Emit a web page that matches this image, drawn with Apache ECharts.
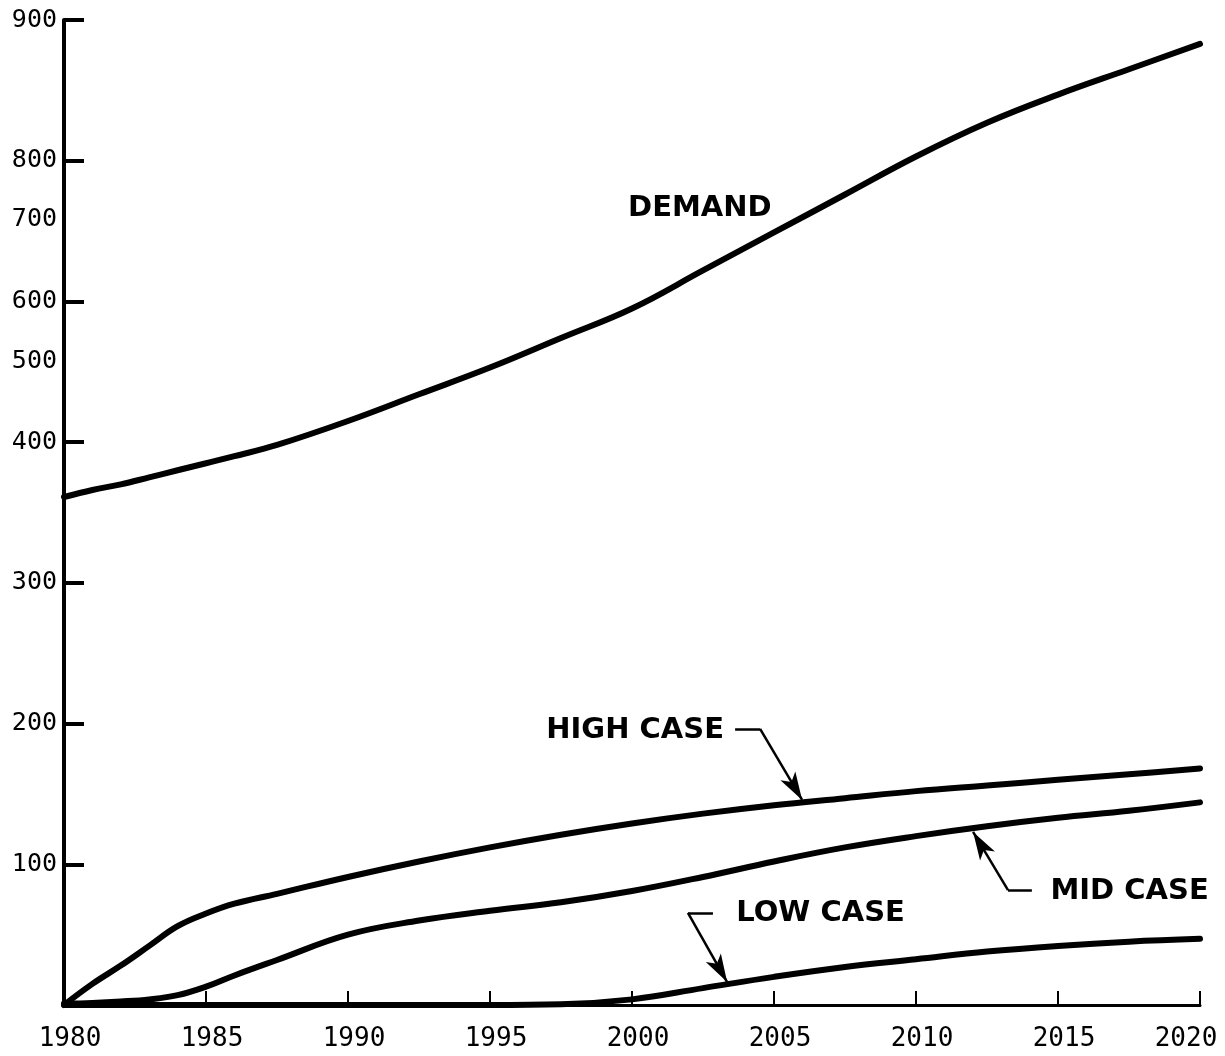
<!DOCTYPE html>
<html><head><meta charset="utf-8">
<script src="https://cdn.jsdelivr.net/npm/echarts@6/dist/echarts.min.js"></script>
<style>html,body{margin:0;padding:0;background:#fff}#c{width:1225px;height:1056px}</style>
</head><body><div id="c"></div>
<script>
// Years sampled along the curves
const years = [1980, 1981, 1982, 1983, 1984, 1985, 1986, 1987.5, 1990, 1992.5, 1995, 1997.5, 2000, 2002.5, 2005, 2007.5, 2010, 2012.5, 2015, 2017.5, 2020];
// Values in the chart's plotted (evenly ticked) axis units
const demand   = [361, 366, 370, 375, 380, 385, 390, 398, 415, 434, 453, 474, 495, 522, 549, 576, 603, 627, 647, 665, 683];
const highCase = [0, 15, 28, 42, 56, 65, 72, 79, 91, 102, 112, 121, 129, 136, 142, 147, 152, 156, 160, 164, 168];
const midCase  = [1, 1.5, 2.5, 4, 7, 13, 21, 32, 50, 60, 67, 73, 81, 91, 102, 112, 120, 127, 133, 138, 144];
const lowCase  = [0, 0, 0, 0, 0, 0, 0, 0, 0, 0, 0, 0.5, 4, 12, 20, 27, 32.5, 38, 42, 45, 47];

// Axis ticks and labels as printed on the original
const xTickYears = [1980, 1985, 1990, 1995, 2000, 2005, 2010, 2015, 2020];
const yTickMarks = [100, 200, 300, 400, 500, 600, 700];
const yLabelValues = [100, 200, 300, 400, 457, 500, 558, 600, 700];
const yTickLabels = ['100', '200', '300', '400', '500', '600', '700', '800', '900'];

const seriesNames = ['DEMAND', 'HIGH CASE', 'MID CASE', 'LOW CASE'];

const toPairs = arr => years.map((y, i) => [y, arr[i]]);

const lineSeries = (name, arr) => ({
  name: name,
  type: 'line',
  data: toPairs(arr),
  smooth: 0.4,
  showSymbol: false,
  clip: false,
  z: 3,
  lineStyle: { color: '#000', width: 6, cap: 'round', join: 'round' }
});

const annoFont = { fontFamily: 'DejaVu Sans', fontWeight: 'bold', fontSize: 29, color: '#000' };
const arrowEnd = { symbol: 'arrow', symbolSize: [13, 28] };
const tickFont = { fontFamily: 'DejaVu Sans Mono', color: '#000' };

const chart = echarts.init(document.getElementById('c'), null, { renderer: 'canvas' });
chart.setOption({
  animation: false,
  backgroundColor: '#fff',
  grid: { left: 64, right: 25, top: 20, bottom: 51, containLabel: false },
  xAxis: {
    type: 'value', min: 1980, max: 2020, interval: 5,
    splitLine: { show: false },
    axisLine: { show: true, lineStyle: { color: '#000', width: 3 } },
    axisTick: { show: true, inside: true, length: 14, lineStyle: { color: '#000', width: 2 } },
    axisLabel: {
      margin: 21,
      formatter: v => (v === 2020 ? '{e|' + v + '}' : '{n|' + v + '}'),
      rich: {
        n: Object.assign({ fontSize: 26, padding: [0, 0, 0, 12] }, tickFont),
        e: Object.assign({ fontSize: 26, padding: [0, 28, 0, 0] }, tickFont)
      }
    }
  },
  yAxis: {
    type: 'value', min: 0, max: 700, interval: 100,
    splitLine: { show: false },
    axisLine: { show: true, lineStyle: { color: '#000', width: 4 } },
    axisTick: { show: true, inside: true, length: 20, customValues: yTickMarks, lineStyle: { color: '#000', width: 4 } },
    axisLabel: Object.assign({
      margin: 7,
      customValues: yLabelValues,
      fontSize: 25,
      padding: [8, 0, 0, 0],
      formatter: v => {
        const i = yLabelValues.indexOf(v);
        return i >= 0 ? yTickLabels[i] : '';
      }
    }, tickFont)
  },
  series: [
    lineSeries(seriesNames[0], demand),
    lineSeries(seriesNames[1], highCase),
    lineSeries(seriesNames[2], midCase),
    lineSeries(seriesNames[3], lowCase),
    {
      name: 'annotations',
      type: 'line',
      data: [],
      silent: true,
      z: 4,
      markLine: {
        silent: true,
        animation: false,
        symbol: ['none', 'none'],
        label: { show: false },
        emphasis: { disabled: true },
        lineStyle: { color: '#000', width: 2.5, type: 'solid' },
        data: [
          [{ coord: [2003.63, 196.2] }, { coord: [2004.51, 196.2] }],
          [{ coord: [2004.51, 196.2] }, Object.assign({ coord: [2005.99, 145.7] }, arrowEnd)],
          [{ coord: [2014.08, 81.7] }, { coord: [2013.24, 81.7] }],
          [{ coord: [2013.24, 81.7] }, Object.assign({ coord: [2012.01, 123] }, arrowEnd)],
          [{ coord: [2002.85, 65.4] }, { coord: [2001.97, 65.4] }],
          [{ coord: [2001.97, 65.4] }, Object.assign({ coord: [2003.35, 16.3] }, arrowEnd)]
        ]
      },
      markPoint: {
        silent: true,
        symbol: 'circle',
        symbolSize: 1,
        itemStyle: { color: 'rgba(0,0,0,0)' },
        label: Object.assign({ show: true, position: 'inside' }, annoFont),
        data: [
          { coord: [2002.39, 566.4], label: { formatter: seriesNames[0] } },
          { coord: [2000.11, 195.4], label: { formatter: seriesNames[1] } },
          { coord: [2017.52, 81.0], label: { formatter: seriesNames[2] } },
          { coord: [2006.64, 64.7], label: { formatter: seriesNames[3] } }
        ]
      }
    }
  ]
});
</script>
</body></html>
